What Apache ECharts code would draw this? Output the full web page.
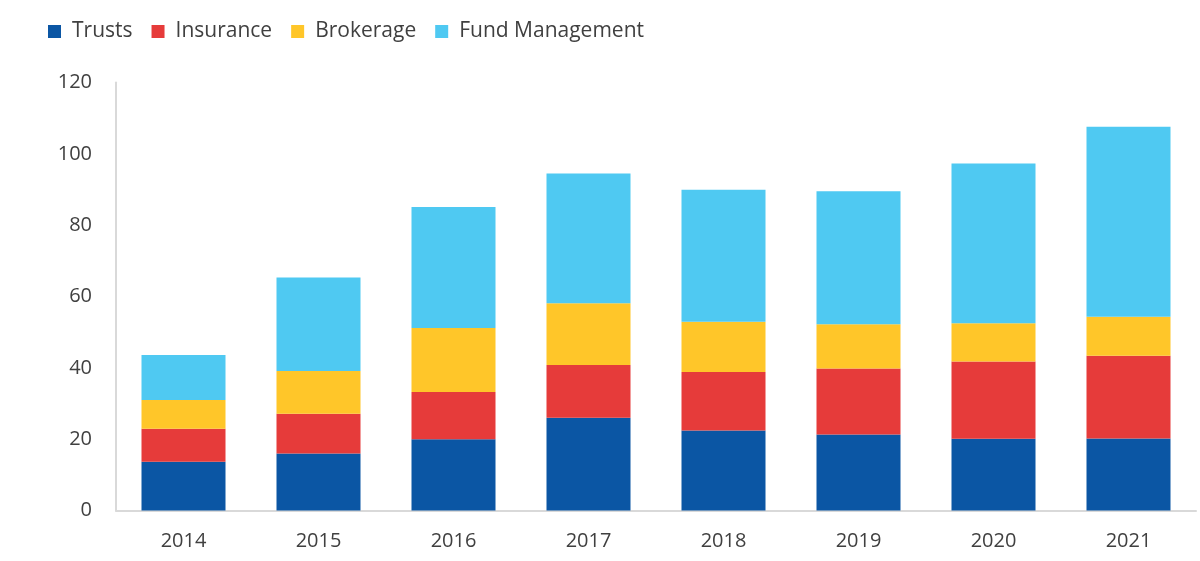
<!DOCTYPE html>
<html>
<head>
<meta charset="utf-8">
<script src="https://cdn.jsdelivr.net/npm/echarts@6/dist/echarts.min.js"></script>
<style>
html,body{margin:0;padding:0;background:#fff;}
#chart{width:1200px;height:561px;}
</style>
</head>
<body>
<div id="chart"></div>
<script>
const categories = ['2014','2015','2016','2017','2018','2019','2020','2021'];
const trusts = [13.7, 16.0, 20.0, 26.0, 22.4, 21.3, 20.1, 20.2];
const insurance = [9.2, 11.1, 13.2, 14.8, 16.4, 18.5, 21.7, 23.2];
const brokerage = [8.1, 12.0, 18.0, 17.3, 14.1, 12.4, 10.7, 10.9];
const fundManagement = [12.6, 26.2, 33.9, 36.4, 37.0, 37.3, 44.8, 53.3];
const yTicks = [0, 20, 40, 60, 80, 100, 120];

const FONT = '"Open Sans", "Noto Sans", sans-serif';
const chart = echarts.init(document.getElementById('chart'));

function bar(name, data, color) {
  return {
    name, type: 'bar', stack: 'total', data,
    barWidth: 84,
    itemStyle: { color },
    emphasis: { disabled: true }
  };
}

chart.setOption({
  backgroundColor: '#ffffff',
  animation: false,
  legend: {
    left: 43, top: 16,
    itemWidth: 13, itemHeight: 13, itemGap: 19,
    icon: 'rect',
    textStyle: { fontFamily: FONT, fontSize: 21, color: '#404040', padding: [0,0,0,6] },
    data: ['Trusts','Insurance','Brokerage','Fund Management']
  },
  grid: { left: 116, top: 82.5, width: 1080, height: 428, containLabel: false },
  xAxis: {
    type: 'category', data: categories,
    axisLine: { lineStyle: { color: '#d9d9d9', width: 2 } },
    axisTick: { show: false },
    axisLabel: { fontFamily: FONT, fontSize: 20, color: '#404040', margin: 21 }
  },
  yAxis: {
    type: 'value', min: yTicks[0], max: yTicks[yTicks.length-1], interval: 20,
    axisLine: { show: true, lineStyle: { color: '#d9d9d9', width: 2 } },
    axisTick: { show: false },
    splitLine: { show: false },
    axisLabel: { fontFamily: FONT, fontSize: 20, color: '#404040', margin: 24 }
  },
  series: [
    bar('Trusts', trusts, '#0B56A4'),
    bar('Insurance', insurance, '#E63B3A'),
    bar('Brokerage', brokerage, '#FFC629'),
    bar('Fund Management', fundManagement, '#4FC9F2')
  ]
});
</script>
</body>
</html>
